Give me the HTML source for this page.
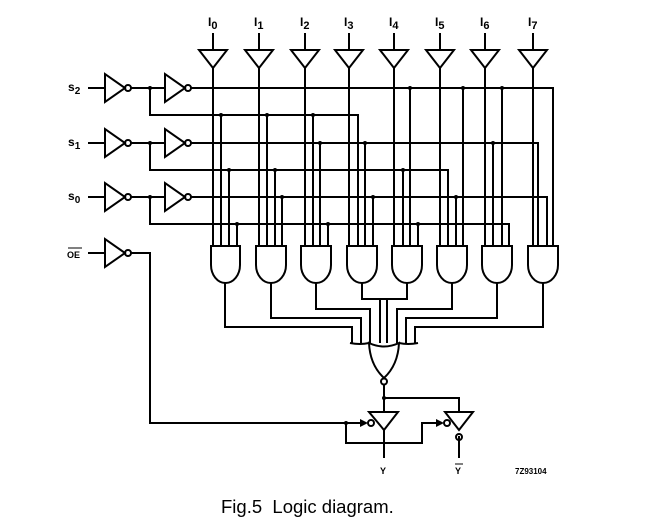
<!DOCTYPE html>
<html><head><style>
html,body{margin:0;padding:0;background:#fff;}
svg{display:block;}
text{font-family:"Liberation Sans",sans-serif;fill:#000;}
</style></head><body>
<svg width="648" height="531" viewBox="0 0 648 531" xmlns="http://www.w3.org/2000/svg">
<g stroke="#000" stroke-width="2" fill="none">
<path d="M213 33V50 M199 50H227L213 68Z M213 68V246"/>
<path d="M259 33V50 M245 50H273L259 68Z M259 68V246"/>
<path d="M305 33V50 M291 50H319L305 68Z M305 68V246"/>
<path d="M349 33V50 M335 50H363L349 68Z M349 68V246"/>
<path d="M394 33V50 M380 50H408L394 68Z M394 68V246"/>
<path d="M440 33V50 M426 50H454L440 68Z M440 68V246"/>
<path d="M485 33V50 M471 50H499L485 68Z M485 68V246"/>
<path d="M533 33V50 M519 50H547L533 68Z M533 68V246"/>
<path d="M88 88H105 M105 74V102L125 88Z M131 88H165 M165 74V102L185 88Z M191 88H553V246 M150 88V115H358V246"/>
<circle cx="128" cy="88" r="3"/><circle cx="188" cy="88" r="3"/>
<path d="M88 143H105 M105 129V157L125 143Z M131 143H165 M165 129V157L185 143Z M191 143H538V246 M150 143V170H448V246"/>
<circle cx="128" cy="143" r="3"/><circle cx="188" cy="143" r="3"/>
<path d="M88 197H105 M105 183V211L125 197Z M131 197H165 M165 183V211L185 197Z M191 197H547V246 M150 197V224H509V246"/>
<circle cx="128" cy="197" r="3"/><circle cx="188" cy="197" r="3"/>
<path d="M88 253H105 M105 239V267L125 253Z M131 253H150V423H366"/>
<circle cx="128" cy="253" r="3"/>
<path d="M221 115V246 M229 170V246 M237 224V246
M267 115V246 M275 170V246 M282 197V246
M313 115V246 M320 143V246 M328 224V246
M365 143V246 M373 197V246
M403 170V246 M410 88V246 M418 224V246
M456 197V246 M463 88V246
M493 143V246 M502 88V246"/>
<path d="M211 246H240V265A14.5 18 0 0 1 211 265Z"/>
<path d="M256 246H286V265A15 18 0 0 1 256 265Z"/>
<path d="M301 246H331V265A15 18 0 0 1 301 265Z"/>
<path d="M347 246H377V265A15 18 0 0 1 347 265Z"/>
<path d="M392 246H422V265A15 18 0 0 1 392 265Z"/>
<path d="M437 246H467V265A15 18 0 0 1 437 265Z"/>
<path d="M482 246H512V265A15 18 0 0 1 482 265Z"/>
<path d="M528 246H558V265A15 18 0 0 1 528 265Z"/>
<path d="M225 283V327H352V343 M271 283V318H361V343 M316 283V309H370V343 M362 283V299H407V283 M380 299V343 M387 299V343 M452 283V309H397V343 M497 283V318H406V343 M543 283V327H415V343"/>
<path d="M350 343Q360 345 369 343 M399 343Q408 345 418 343"/>
<path d="M369 343Q384 350 399 343Q398 365 384 378Q370 365 369 343Z"/>
<circle cx="384" cy="381.5" r="3"/>
<path d="M384 385V412 M384 398H459V412"/>
<path d="M369 412H398L384 430Z M384 430V458"/>
<circle cx="371" cy="423" r="3"/>
<path d="M346 423V443H422V423H437"/>
<path d="M445 412H473L459 430Z M459 436V458"/>
<circle cx="447" cy="423" r="3"/>
<circle cx="459" cy="437" r="3"/>
</g>
<g fill="#000">
<path d="M368 423L360 419V427Z"/><path d="M444 423L436 419V427Z"/>
<circle cx="150" cy="88" r="2"/><circle cx="150" cy="143" r="2"/><circle cx="150" cy="197" r="2"/>
<circle cx="221" cy="115" r="2"/><circle cx="229" cy="170" r="2"/><circle cx="237" cy="224" r="2"/>
<circle cx="267" cy="115" r="2"/><circle cx="275" cy="170" r="2"/><circle cx="282" cy="197" r="2"/>
<circle cx="313" cy="115" r="2"/><circle cx="320" cy="143" r="2"/><circle cx="328" cy="224" r="2"/>
<circle cx="365" cy="143" r="2"/><circle cx="373" cy="197" r="2"/>
<circle cx="403" cy="170" r="2"/><circle cx="410" cy="88" r="2"/><circle cx="418" cy="224" r="2"/>
<circle cx="456" cy="197" r="2"/><circle cx="463" cy="88" r="2"/>
<circle cx="493" cy="143" r="2"/><circle cx="502" cy="88" r="2"/>
<circle cx="384" cy="398" r="2"/><circle cx="346" cy="423" r="2"/>
</g>
<g font-size="12" font-weight="bold">
<text x="208" y="26">I<tspan font-size="11" dy="3">0</tspan></text>
<text x="254" y="26">I<tspan font-size="11" dy="3">1</tspan></text>
<text x="300" y="26">I<tspan font-size="11" dy="3">2</tspan></text>
<text x="344" y="26">I<tspan font-size="11" dy="3">3</tspan></text>
<text x="389" y="26">I<tspan font-size="11" dy="3">4</tspan></text>
<text x="435" y="26">I<tspan font-size="11" dy="3">5</tspan></text>
<text x="480" y="26">I<tspan font-size="11" dy="3">6</tspan></text>
<text x="528" y="26">I<tspan font-size="11" dy="3">7</tspan></text>
<text x="68" y="91">s<tspan font-size="10" dy="3">2</tspan></text>
<text x="68" y="146">s<tspan font-size="10" dy="3">1</tspan></text>
<text x="68" y="200">s<tspan font-size="10" dy="3">0</tspan></text>
<text x="67" y="258" font-size="9">OE</text>
<text x="380" y="474" font-size="9">Y</text>
<text x="455" y="474" font-size="9">Y</text>
<text x="515" y="474" font-size="8">7Z93104</text>
</g>
<path d="M68 248H82 M455 464H463" stroke="#000" stroke-width="1"/>
<text x="221" y="513" font-size="18.5">Fig.5&#160; Logic diagram.</text>
</svg>
</body></html>
